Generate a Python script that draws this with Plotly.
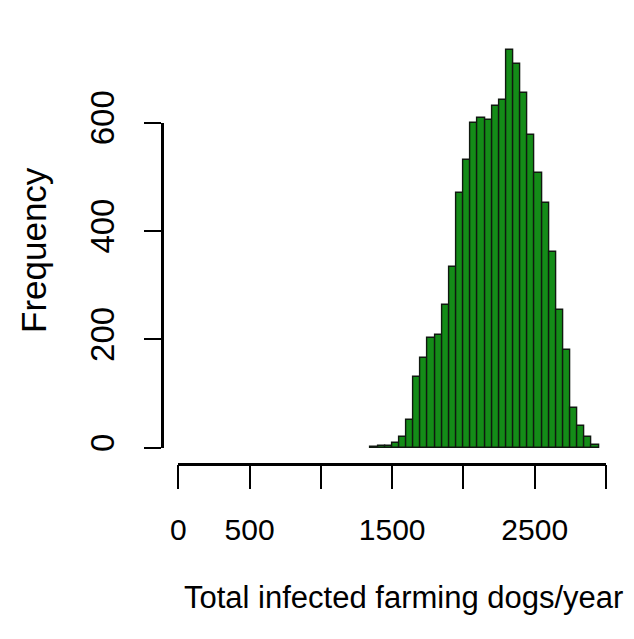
import numpy as np
import plotly.graph_objects as go

# Histogram counts (bins of width 50 starting at 1350)
bin_start = 1350
bin_width = 50
counts = [2, 3, 4, 9, 20, 51, 131, 165, 203, 208, 263, 334, 470, 531, 599,
          608, 605, 630, 642, 734, 709, 654, 577, 507, 451, 362, 254, 180,
          73, 40, 20, 5]

x_tick_vals = [0, 500, 1000, 1500, 2000, 2500, 3000]
x_tick_text = ["0", "500", "", "1500", "", "2500", ""]
y_tick_vals = [0, 200, 400, 600]
x_title = "Total infected farming dogs/year"
y_title = "Frequency"

centers = bin_start + bin_width * (np.arange(len(counts)) + 0.5)

# Page geometry (pixels) -> paper fractions
W, H = 634, 639


def fx(px):
    return px / W


def fy(px):
    return 1 - px / H


x_left_px, x_right_px = 178.3, 606.0      # x axis spans 0..3000
y_zero_px, y_top_tick_px = 447.7, 122.7   # y axis spans 0..600
plot_bottom_px, plot_top_px = 462.7, 15.0
y_scale = (y_zero_px - y_top_tick_px) / 600.0
y_range = [-(plot_bottom_px - y_zero_px) / y_scale,
           (y_zero_px - plot_top_px) / y_scale]

font_family = "Liberation Sans, Arial, sans-serif"

fig = go.Figure()
fig.add_trace(go.Bar(
    x=centers, y=counts, width=bin_width,
    marker=dict(color="#148c18", line=dict(color="#101810", width=1.4)),
    xaxis="x", yaxis="y", showlegend=False,
))
# empty trace so the offset frequency axis is drawn
fig.add_trace(go.Scatter(x=[None], y=[None], xaxis="x", yaxis="y2",
                         showlegend=False, hoverinfo="skip"))

fig.update_layout(
    template="none",
    width=W, height=H, autosize=False,
    margin=dict(l=0, r=0, t=0, b=0, pad=0),
    paper_bgcolor="white", plot_bgcolor="rgba(0,0,0,0)",
    bargap=0,
    xaxis=dict(
        domain=[fx(x_left_px), fx(x_right_px)], range=[0, 3000], anchor="y",
        automargin=False,
        tickmode="array", tickvals=x_tick_vals, ticktext=x_tick_text,
        ticks="outside", ticklen=24, tickwidth=2, tickcolor="black",
        showline=True, linewidth=2.5, linecolor="black",
        showgrid=False, zeroline=False,
        tickfont=dict(family=font_family, size=30, color="black"),
        ticklabelstandoff=15,
    ),
    yaxis=dict(
        domain=[fy(plot_bottom_px), fy(plot_top_px)], range=y_range,
        automargin=False,
        visible=False, showgrid=False, zeroline=False,
    ),
    yaxis2=dict(
        domain=[fy(y_zero_px), fy(y_top_tick_px)], range=[0, 600],
        automargin=False,
        anchor="free", position=fx(161.7), side="left",
        tickmode="array", tickvals=y_tick_vals,
        ticks="outside", ticklen=17, tickwidth=2, tickcolor="black",
        showline=True, linewidth=2.5, linecolor="black",
        showgrid=False, zeroline=False, tickangle=-90,
        tickfont=dict(family=font_family, size=33, color="black"),
        ticklabelstandoff=17,
    ),
    annotations=[
        dict(text=y_title, x=fx(33), y=fy(250), xref="paper", yref="paper",
             showarrow=False, textangle=-90, xanchor="center", yanchor="middle",
             font=dict(family=font_family, size=35, color="black")),
        dict(text=x_title, x=fx(403), y=fy(597), xref="paper", yref="paper",
             showarrow=False, xanchor="center", yanchor="middle",
             font=dict(family=font_family, size=31, color="black")),
    ],
)

fig.write_html("out.html")
